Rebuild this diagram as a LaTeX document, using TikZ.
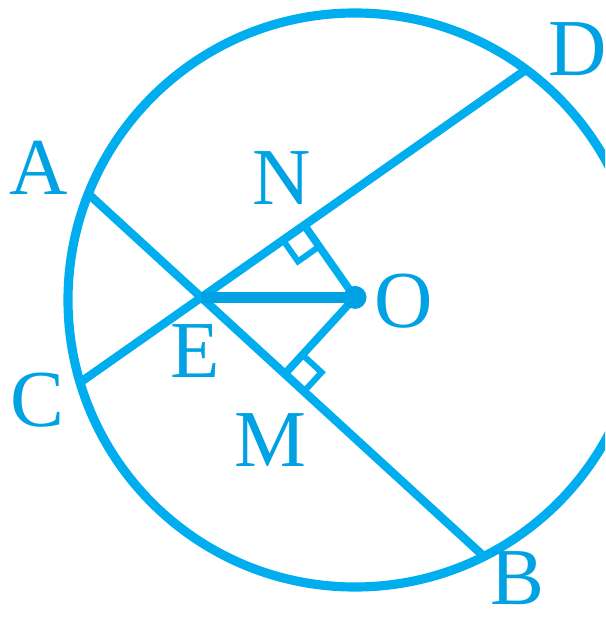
\documentclass[tikz,border=0pt]{standalone}
\usepackage{fontspec}
\newfontfamily\tmsfont{Liberation Serif}
\usetikzlibrary{calc}
\definecolor{cy}{RGB}{0,174,239}
\definecolor{cyd}{RGB}{0,162,228}
\tikzset{
  circ/.style={draw=cy, line width=5.2pt},
  chord/.style={draw=cy, line width=4.8pt},
  perp/.style={draw=cy, line width=4.4pt},
  radial/.style={draw=cyd, line width=6.2pt},
  rmark/.style={draw=cy, line width=3.4pt, line join=miter},
  lab/.style={text=cyd, inner sep=0pt, font=\tmsfont\fontsize{46}{46}\selectfont}
}
\begin{document}
\begin{tikzpicture}
\useasboundingbox (0,0) rectangle (12.10,-12.42);
\clip (0,0) rectangle (12.10,-12.42);
\coordinate (Z) at (7.10,-6.00);
\coordinate (A) at ([shift={(Z)}]158.3:5.74);
\coordinate (C) at ([shift={(Z)}]196.7:5.74);
\coordinate (D) at ([shift={(Z)}]53.4:5.74);
\coordinate (B) at ([shift={(Z)}]-63.3:5.74);
\coordinate (E) at (intersection of A--B and C--D);
\coordinate (O) at (E -| Z);
\coordinate (N) at ($(C)!(O)!(D)$);
\coordinate (M) at ($(A)!(O)!(B)$);
% circle
\draw[circ] (Z) circle (5.74);
% chords
\draw[chord] (A) -- (B);
\draw[chord] (C) -- (D);
% perpendiculars
\draw[perp] (O) -- (N);
\draw[perp] (O) -- (M);
% right-angle marks
\coordinate (N1) at ($(N)!0.52cm!(E)$);
\coordinate (N2) at ($(N)!0.52cm!(O)$);
\draw[rmark] (N1) -- ($(N1)+(N2)-(N)$) -- (N2);
\coordinate (M1) at ($(M)!0.52cm!(B)$);
\coordinate (M2) at ($(M)!0.52cm!(O)$);
\draw[rmark] (M1) -- ($(M1)+(M2)-(M)$) -- (M2);
% E to O
\draw[radial] (E) -- (O);
\fill[cyd] (O) circle (0.23);
% labels
\node[lab] (lA) at (0.78,-3.36) {A};
\node[lab] (lC) at (0.74,-8.00) {C};
\node[lab] (lE) at (3.90,-7.02) {E};
\node[lab] (lN) at (5.64,-3.56) {N};
\node[lab] (lO) at (8.08,-6.02) {O};
\node[lab] (lM) at (5.40,-8.80) {M};
\node[lab] (lD) at (11.56,-0.98) {D};
\node[lab] (lB) at (10.34,-11.56) {B};
\end{tikzpicture}
\end{document}
